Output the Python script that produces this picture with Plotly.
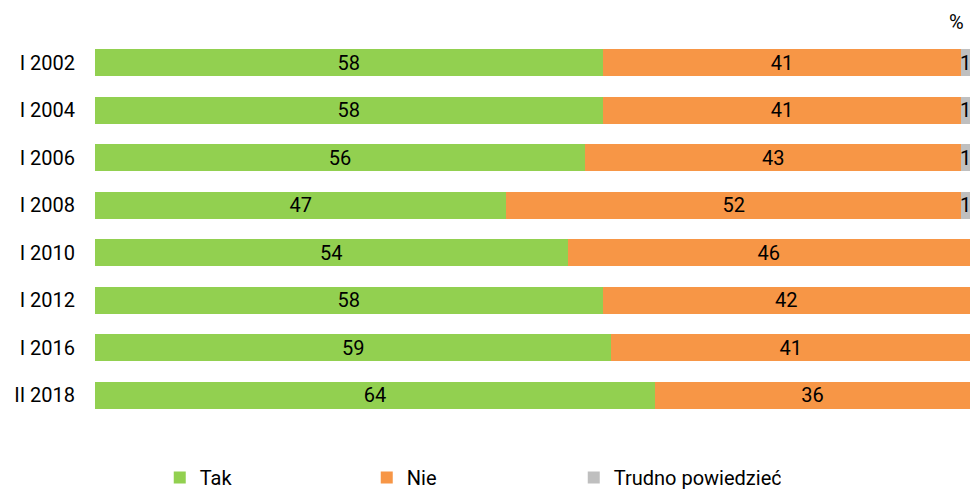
import plotly.graph_objects as go

categories = ["I 2002", "I 2004", "I 2006", "I 2008", "I 2010", "I 2012", "I 2016", "II 2018"]
tak = [58, 58, 56, 47, 54, 58, 59, 64]
nie = [41, 41, 43, 52, 46, 42, 41, 36]
trudno = [1, 1, 1, 1, 0, 0, 0, 0]

series = [
    ("Tak", tak, "#92D050"),
    ("Nie", nie, "#F79646"),
    ("Trudno powiedzieć", trudno, "#BFBFBF"),
]

FS = 20

fig = go.Figure()
for name, vals, color in series:
    fig.add_trace(go.Bar(
        y=categories, x=vals, name=name, orientation="h",
        marker=dict(color=color, line=dict(width=0)),
        text=[str(v) if v else "" for v in vals],
        textposition="inside", insidetextanchor="middle",
        constraintext="none", textangle=0,
        textfont=dict(color="#000000", size=FS, family="Roboto"),
        hoverinfo="skip",
    ))

fig.update_layout(
    barmode="stack",
    bargap=0.43,
    width=970, height=497,
    margin=dict(l=95, r=0, t=39, b=78),
    paper_bgcolor="white", plot_bgcolor="white",
    font=dict(family="Roboto", size=FS, color="#000000"),
    showlegend=True,
    legend=dict(
        orientation="h", x=0.074, xanchor="left",
        yref="container", y=-0.018, yanchor="bottom",
        entrywidth=162, entrywidthmode="pixels",
        font=dict(size=FS, family="Roboto"),
        itemwidth=30, traceorder="normal",
    ),
    xaxis=dict(range=[0, 100], visible=False, fixedrange=True),
    yaxis=dict(autorange="reversed", showgrid=False, showline=False, zeroline=False,
               ticks="", ticklabelstandoff=19, tickfont=dict(size=FS), fixedrange=True),
    annotations=[dict(text="%", xref="paper", yref="paper", x=1.0, y=1.0, yshift=17,
                      xshift=-4, xanchor="right", yanchor="middle", showarrow=False,
                      font=dict(size=FS, family="Roboto"))],
)

fig.write_html("out.html", config={"displayModeBar": False},
               post_script="document.body.style.margin='0px';")
